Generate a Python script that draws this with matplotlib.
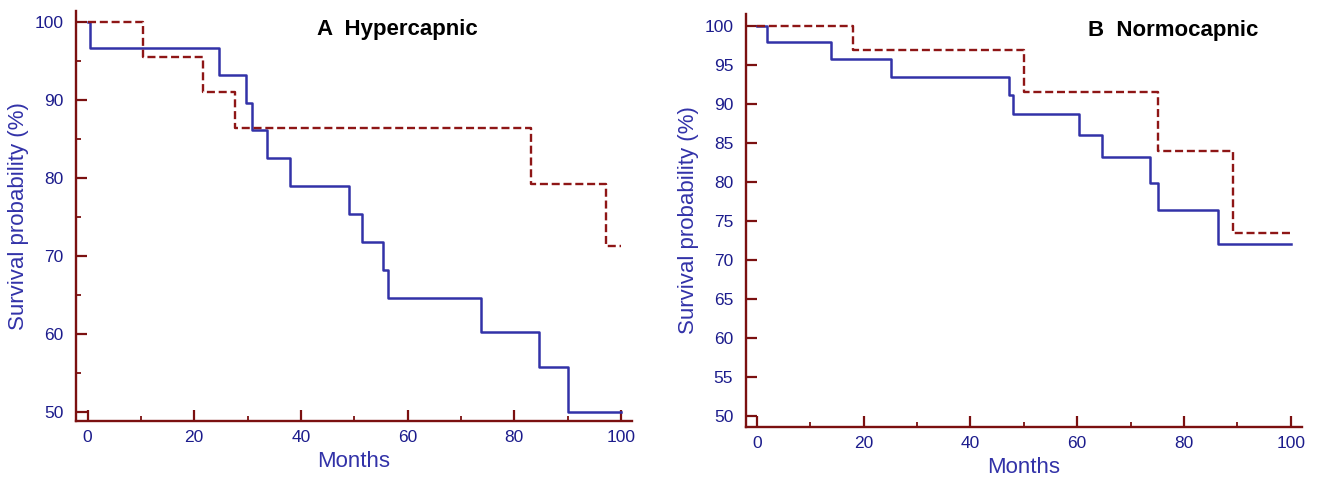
import matplotlib
matplotlib.use('Agg')
import matplotlib.pyplot as plt
from matplotlib.ticker import MultipleLocator

plt.rcParams['font.family'] = ['Liberation Sans', 'DejaVu Sans']

# Kaplan-Meier curves (months, survival %)
hyper_blue_t = [0, 0.4, 24.6, 29.7, 30.8, 33.6, 37.9, 49.1, 51.5, 55.4, 56.4, 73.8, 84.6, 90.0, 100]
hyper_blue_s = [100, 96.6, 93.2, 89.6, 86.1, 82.5, 78.9, 75.3, 71.8, 68.1, 64.6, 60.2, 55.7, 50.0, 50.0]
hyper_red_t = [0, 10.4, 21.6, 27.7, 83.1, 97.2, 100]
hyper_red_s = [100, 95.4, 91.0, 86.4, 79.2, 71.2, 71.2]

normo_blue_t = [0, 2.0, 14.0, 25.2, 47.3, 48.0, 60.3, 64.6, 73.7, 75.2, 86.4, 100]
normo_blue_s = [100, 97.9, 95.7, 93.5, 91.1, 88.7, 86.0, 83.2, 79.9, 76.4, 72.0, 72.0]
normo_red_t = [0, 18.1, 50.1, 75.2, 89.1, 100]
normo_red_s = [100, 96.9, 91.5, 83.9, 73.4, 73.4]

x_ticks = [0, 20, 40, 60, 80, 100]

axis_col = '#7b1010'
label_col = '#1c1c8c'
blue_col = '#3232a8'
red_col = '#8e1616'

fig = plt.figure(figsize=(13.17, 4.79), dpi=100)
ax1 = fig.add_axes([0.0577, 0.1221, 0.4222, 0.8556])
ax2 = fig.add_axes([0.5662, 0.1092, 0.4224, 0.8610])


def style_axis(ax, xlim, ylim, ymajor, yminor):
    ax.set_xlim(*xlim)
    ax.set_ylim(*ylim)
    for s in ['top', 'right']:
        ax.spines[s].set_visible(False)
    for s in ['left', 'bottom']:
        ax.spines[s].set_color(axis_col)
        ax.spines[s].set_linewidth(1.7)
    ax.set_xticks(x_ticks)
    ax.xaxis.set_minor_locator(MultipleLocator(10))
    ax.yaxis.set_major_locator(MultipleLocator(ymajor))
    if yminor:
        ax.yaxis.set_minor_locator(MultipleLocator(yminor))
    ax.tick_params(which='major', direction='in', length=8.2, width=1.6,
                   color=axis_col, labelcolor=label_col, labelsize=12.5)
    ax.tick_params(which='minor', direction='in', length=3.8, width=1.3, color=axis_col)
    ax.tick_params(axis='y', pad=9)
    ax.tick_params(axis='x', pad=7)
    ax.set_xlabel('Months', fontsize=16, color=blue_col, labelpad=4)
    ax.set_ylabel('Survival probability (%)', fontsize=16, color=blue_col, labelpad=4)


'''Panel A'''
ax1.step(hyper_blue_t, hyper_blue_s, where='post', color=blue_col, lw=1.8)
ax1.step(hyper_red_t, hyper_red_s, where='post', color=red_col, lw=1.7, dashes=(3.4, 1.6))
style_axis(ax1, (-2.16, 102.06), (48.87, 101.4), 10, 5)
ax1.text(0.434, 0.955, 'A  Hypercapnic', transform=ax1.transAxes, fontsize=16,
         fontweight='bold', color='black', va='center', ha='left')

'''Panel B'''
ax2.step(normo_blue_t, normo_blue_s, where='post', color=blue_col, lw=1.8)
ax2.step(normo_red_t, normo_red_s, where='post', color=red_col, lw=1.7, dashes=(3.4, 1.6))
style_axis(ax2, (-2.06, 102.1), (48.6, 101.5), 5, None)
ax2.text(0.615, 0.96, 'B  Normocapnic', transform=ax2.transAxes, fontsize=16,
         fontweight='bold', color='black', va='center', ha='left')

fig.savefig('out.png', dpi=100)
